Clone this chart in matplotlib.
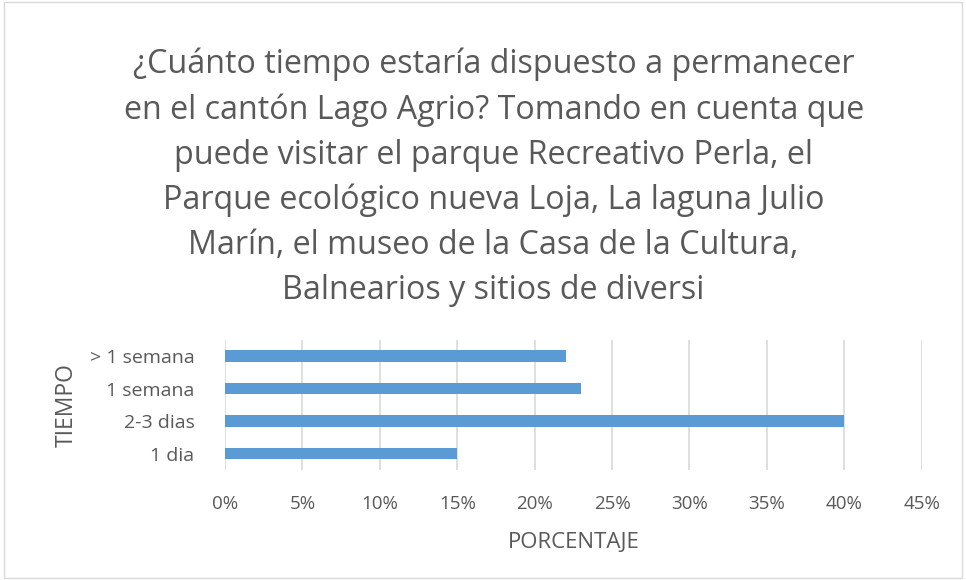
import matplotlib.pyplot as plt
from matplotlib.ticker import PercentFormatter
from matplotlib.patches import Rectangle

# ---- data ----
categorias = ["1 dia", "2-3 dias", "1 semana", "> 1 semana"]
porcentajes = [15, 40, 23, 22]
ticks_x = [0, 5, 10, 15, 20, 25, 30, 35, 40, 45]

titulo = ("¿Cuánto tiempo estaría dispuesto a permanecer\n"
          "en el cantón Lago Agrio? Tomando en cuenta que\n"
          "puede visitar el parque Recreativo Perla, el\n"
          "Parque ecológico nueva Loja, La laguna Julio\n"
          "Marín, el museo de la Casa de la Cultura,\n"
          "Balnearios y sitios de diversi")

GRIS = "#595959"
AZUL = "#5b9bd5"

plt.rcParams["font.family"] = ["Open Sans", "DejaVu Sans"]

fig = plt.figure(figsize=(9.66, 5.8), dpi=100)
fig.patches.append(Rectangle((0.004, 0.004), 0.992, 0.992, transform=fig.transFigure,
                             fill=False, edgecolor="#d9d9d9", linewidth=1))

ax = fig.add_axes([0.233, 0.19, 0.721, 0.224])
ax.barh(categorias, porcentajes, height=0.36, color=AZUL, zorder=3)

ax.set_xlim(0, 45)
ax.set_xticks(ticks_x)
ax.xaxis.set_major_formatter(PercentFormatter(decimals=0))
ax.set_ylim(-0.5, 3.5)
ax.grid(axis="x", color="#d9d9d9", linewidth=1.2, zorder=0)
for s in ax.spines.values():
    s.set_visible(False)
ax.tick_params(length=0, colors=GRIS)
ax.tick_params(axis="x", labelsize=13.5, pad=18)
ax.tick_params(axis="y", labelsize=14, pad=22)

ax.set_xlabel("PORCENTAJE", color=GRIS, fontsize=16, labelpad=14)
ax.set_ylabel("TIEMPO", color=GRIS, fontsize=16.5, labelpad=8)

fig.text(0.511, 0.918, titulo, ha="center", va="top", color=GRIS,
         fontsize=23.2, linespacing=1.475)

fig.savefig("out.png", dpi=100)
